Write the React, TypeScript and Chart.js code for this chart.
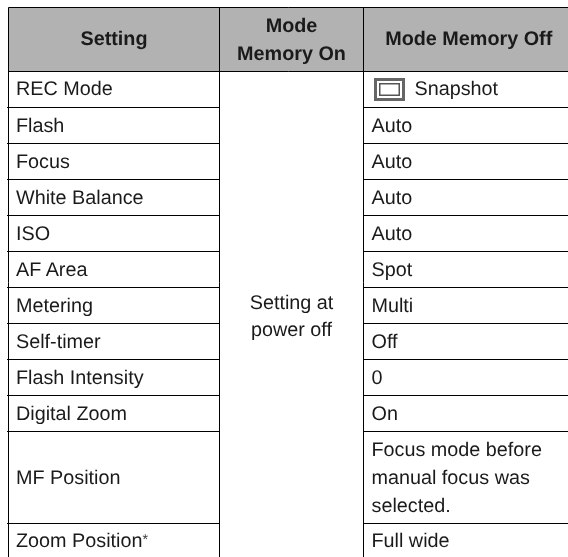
import React, { useEffect, useRef } from "react";
import { Chart, registerables } from "chart.js";

Chart.register(...registerables);

const headers = ["Setting", "Mode\nMemory On", "Mode Memory Off"];
const settings = [
  "REC Mode", "Flash", "Focus", "White Balance", "ISO", "AF Area", "Metering",
  "Self-timer", "Flash Intensity", "Digital Zoom", "MF Position", "Zoom Position",
];
const memoryOn = "Setting at\npower off";
const memoryOff = [
  "Snapshot", "Auto", "Auto", "Auto", "Auto", "Spot", "Multi", "Off", "0", "On",
  "Focus mode before\nmanual focus was\nselected.", "Full wide",
];
const columnEdges = [8.5, 219.5, 363.5, 568];
const rowEdges = [7.5, 71.5, 107.5, 143.5, 179.5, 215.5, 251.5, 287.5, 323.5, 359.5, 395.5, 431.5, 523.5, 559.5];

const FONT = '"Liberation Sans", Arial, sans-serif';
const SIZE = 19.8;
const LINE = 28;

const tablePlugin = {
  id: "table",
  beforeDatasetsDraw(chart: any) {
    const { ctx, scales } = chart;
    const X = (v: number) => scales.x.getPixelForValue(v);
    const Y = (v: number) => scales.y.getPixelForValue(v);
    const r = rowEdges;
    const c = columnEdges;
    const last = settings.length - 1;
    ctx.save();
    ctx.textRendering = "geometricPrecision";
    ctx.fillStyle = "#b2b2b2";
    ctx.fillRect(X(c[0]), Y(r[0]), X(c[3]) - X(c[0]), Y(r[1]) - Y(r[0]));
    ctx.strokeStyle = "#000";
    ctx.lineWidth = 1;
    const h = (x0: number, x1: number, y: number) => {
      ctx.beginPath(); ctx.moveTo(x0, y); ctx.lineTo(x1, y); ctx.stroke();
    };
    const v = (x: number, y0: number, y1: number) => {
      ctx.beginPath(); ctx.moveTo(x, y0); ctx.lineTo(x, y1); ctx.stroke();
    };
    h(X(c[0]), X(c[3]), Y(r[0]));
    h(X(c[0]), X(c[3]), Y(r[1]));
    for (let i = 2; i < r.length - 1; i++) {
      h(X(c[0]) - 1.5, X(c[1]), Y(r[i]));
      h(X(c[2]), X(c[3]), Y(r[i]));
    }
    c.slice(0, 3).forEach((x) => v(X(x), Y(r[0]), Y(557)));

    ctx.textBaseline = "alphabetic";
    ctx.fillStyle = "#1a1a1a";
    const block = (text: string, x: number, firstBaseline: number, align: CanvasTextAlign, line = LINE) => {
      ctx.textAlign = align;
      text.split("\n").forEach((l, i) => ctx.fillText(l, x, firstBaseline + i * line));
    };
    const offset = (i: number) => (i === 0 || i === last ? 23 : 24);
    ctx.font = `bold ${SIZE}px ${FONT}`;
    block(headers[0], (X(c[0]) + X(c[1])) / 2, Y(45), "center");
    block(headers[1], (X(c[1]) + X(c[2])) / 2, Y(31.5), "center");
    block(headers[2], (X(c[2]) + X(c[3])) / 2 + 3, Y(45), "center");
    ctx.font = `${SIZE}px ${FONT}`;
    settings.forEach((t, i) => {
      const top = Y(r[i + 1]);
      const y = i === 10 ? top + 52 : top + offset(i);
      block(t, X(c[0]) + 7.5, y, "left");
      if (i === last) {
        const w = ctx.measureText(t).width;
        ctx.font = `${SIZE * 0.72}px ${FONT}`;
        ctx.fillStyle = "#444";
        ctx.fillText("*", X(c[0]) + 7.5 + w, y - 3);
        ctx.fillStyle = "#1a1a1a";
        ctx.font = `${SIZE}px ${FONT}`;
      }
    });
    block(memoryOn, (X(c[1]) + X(c[2])) / 2, Y(309), "center", 27);
    memoryOff.forEach((t, i) => {
      block(t, X(c[2]) + 8 + (i === 0 ? 43 : 0), Y(r[i + 1]) + offset(i), "left");
    });
    // Snapshot icon
    const ix = X(c[2]) + 10.5;
    const iy = Y(r[1]) + 6.5;
    ctx.fillStyle = "#666";
    ctx.fillRect(ix, iy, 31, 23);
    ctx.fillStyle = "#fff";
    ctx.fillRect(ix + 3, iy + 3, 25, 17);
    ctx.fillStyle = "#555";
    ctx.fillRect(ix + 5, iy + 5, 21, 13);
    ctx.fillStyle = "#fff";
    ctx.fillRect(ix + 6.5, iy + 6.5, 18, 10);
    ctx.restore();
  },
};

export default function App() {
  const ref = useRef<HTMLCanvasElement>(null);
  useEffect(() => {
    document.body.style.margin = "0";
    const chart = new Chart(ref.current!, {
      type: "scatter",
      data: { datasets: [{ data: [], pointRadius: 0 }] },
      options: {
        animation: false,
        responsive: false,
        layout: { padding: 0 },
        plugins: { legend: { display: false }, tooltip: { enabled: false } },
        scales: {
          x: { type: "linear", display: false, min: 0, max: 568 },
          y: { type: "linear", display: false, min: 0, max: 557, reverse: true },
        },
      },
      plugins: [tablePlugin],
    });
    return () => chart.destroy();
  }, []);
  return <canvas ref={ref} width={568} height={557} style={{ display: "block", background: "#fff" }} />;
}
